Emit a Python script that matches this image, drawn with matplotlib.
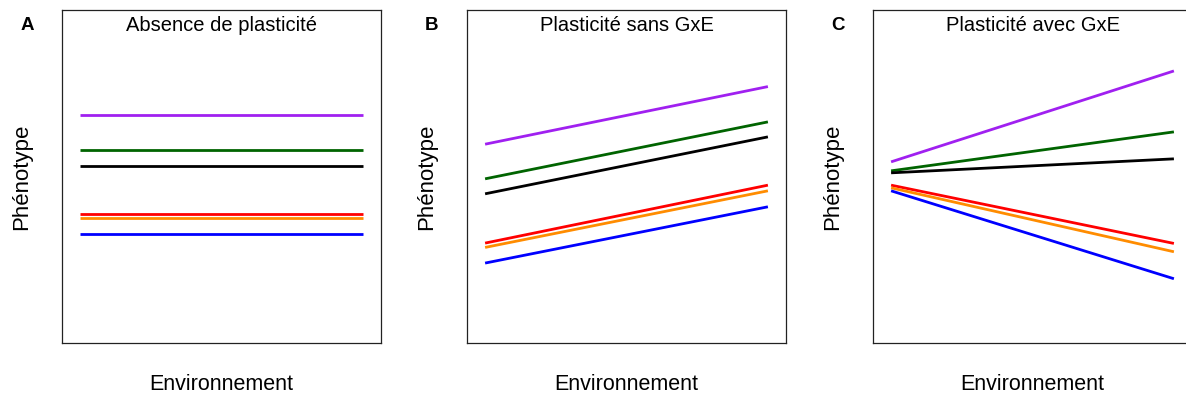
import numpy as np
import matplotlib.pyplot as plt

plt.rcParams['font.family'] = ['Liberation Sans', 'DejaVu Sans']

# environment gradient (start, end)
env = [0, 1]
colors = ['#A020F0', '#006400', 'black', 'red', '#FF8C00', 'blue']

# phenotype values (start, end) for each genotype, per panel
pheno_A = [[6.85, 6.85], [5.79, 5.79], [5.32, 5.32],
           [3.88, 3.88], [3.75, 3.75], [3.28, 3.28]]
pheno_B = [[5.97, 7.70], [4.93, 6.64], [4.48, 6.19],
           [3.00, 4.74], [2.87, 4.57], [2.40, 4.09]]
pheno_C = [[5.44, 8.17], [5.17, 6.34], [5.11, 5.53],
           [4.74, 2.99], [4.66, 2.74], [4.57, 1.93]]

panels = [('A', 'Absence de plasticité', pheno_A),
          ('B', 'Plasticité sans GxE', pheno_B),
          ('C', 'Plasticité avec GxE', pheno_C)]

W, H = 1186, 399
fig = plt.figure(figsize=(W / 100, H / 100), dpi=100)

lefts = [62, 467, 873]
for left, (letter, title, pheno) in zip(lefts, panels):
    ax = fig.add_axes([left / W, (H - 343) / H, 319 / W, 333 / H])
    for vals, c in zip(pheno, colors):
        ax.plot(env, vals, color=c, lw=2.0, solid_capstyle='butt')
    ax.set_xlim(-0.064, 1.064)
    ax.set_ylim(0, 10)
    ax.set_xticks([])
    ax.set_yticks([])
    for s in ax.spines.values():
        s.set_linewidth(0.9)
        s.set_color('#222222')
    ax.text(0.5, 0.953, title, transform=ax.transAxes,
            ha='center', va='center', fontsize=14.5)
    fig.text((left - 35) / W, 1 - 25 / H, letter, fontsize=13.5,
             fontweight='bold', ha='center', va='center')
    fig.text((left - 40) / W, 1 - 177 / H, 'Phénotype', rotation=90,
             fontsize=16, ha='center', va='center')
    fig.text((left + 159) / W, 1 - 385 / H, 'Environnement',
             fontsize=15.5, ha='center', va='center')

fig.savefig('out.png', dpi=100)
